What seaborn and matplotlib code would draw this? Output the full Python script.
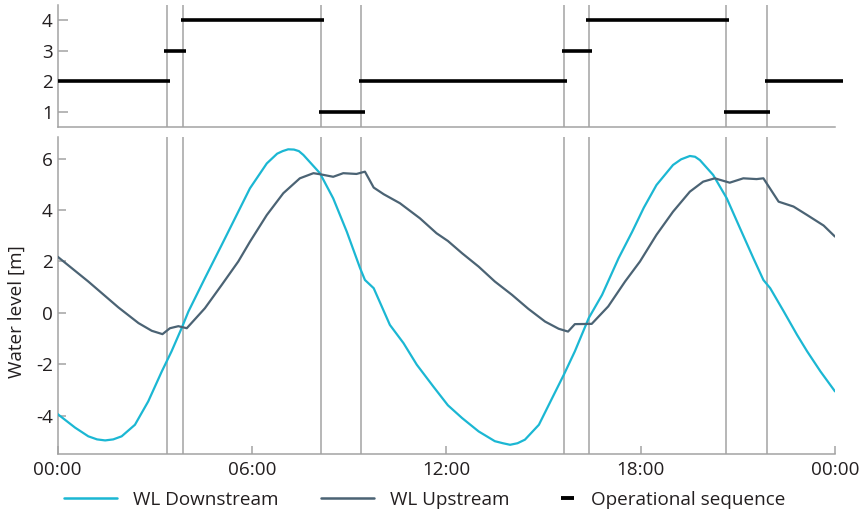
import matplotlib
matplotlib.use("Agg")
import matplotlib.pyplot as plt
from matplotlib.lines import Line2D
import numpy as np
import pandas as pd
import seaborn as sns

# ---------------- data ----------------
ds_hour = [0, 0.54, 0.95, 1.22, 1.47, 1.72, 1.98, 2.39, 2.80, 3.22, 3.52, 3.83, 4.04, 4.55,
           5.07, 5.58, 5.94, 6.46, 6.78, 6.95, 7.12, 7.3, 7.45, 7.59, 8.10, 8.51, 8.93,
           9.34, 9.49, 9.76, 10.26, 10.68, 11.09, 11.6, 12.05, 12.49, 13.0, 13.5, 13.75,
           13.97, 14.2, 14.43, 14.86, 15.27, 15.63, 15.97, 16.4, 16.81, 17.32, 17.74, 18.1,
           18.49, 19.0, 19.25, 19.52, 19.68, 19.83, 20.24, 20.66, 21.07, 21.48, 21.79, 22.0,
           22.42, 22.83, 23.14, 23.55, 24.0]
ds_level = [-3.94, -4.47, -4.81, -4.93, -4.97, -4.93, -4.81, -4.36, -3.45, -2.28, -1.5,
            -0.6, 0.05, 1.35, 2.65, 3.94, 4.85, 5.82, 6.2, 6.3, 6.37, 6.36, 6.3, 6.15, 5.44,
            4.46, 3.16, 1.74, 1.28, 0.96, -0.47, -1.18, -2.02, -2.87, -3.6, -4.1, -4.62,
            -5.0, -5.08, -5.14, -5.08, -4.94, -4.36, -3.32, -2.41, -1.5, -0.2, 0.7, 2.13,
            3.16, 4.1, 4.98, 5.76, 5.98, 6.11, 6.08, 5.95, 5.37, 4.46, 3.29, 2.13, 1.28,
            0.96, 0.05, -0.86, -1.5, -2.28, -3.06]

us_hour = [0, 0.95, 1.88, 2.5, 2.91, 3.24, 3.47, 3.73, 3.99, 4.55, 5.07, 5.58, 5.94, 6.46,
           6.97, 7.48, 7.9, 8.1, 8.51, 8.82, 9.23, 9.49, 9.76, 10.07, 10.57, 11.19, 11.7,
           12.05, 12.49, 13.0, 13.5, 14.03, 14.53, 15.05, 15.47, 15.76, 15.97, 16.49, 17.0,
           17.52, 17.98, 18.49, 19.0, 19.52, 19.93, 20.29, 20.75, 21.17, 21.58, 21.79, 22.26,
           22.72, 23.14, 23.65, 24.0]
us_level = [2.19, 1.22, 0.21, -0.4, -0.7, -0.83, -0.6, -0.52, -0.6, 0.18, 1.09, 2.0, 2.77,
            3.81, 4.66, 5.24, 5.44, 5.4, 5.3, 5.44, 5.41, 5.5, 4.88, 4.62, 4.27, 3.68, 3.1,
            2.8, 2.32, 1.8, 1.22, 0.7, 0.16, -0.34, -0.62, -0.73, -0.44, -0.43, 0.25, 1.22,
            2.0, 3.04, 3.94, 4.72, 5.11, 5.24, 5.07, 5.24, 5.21, 5.24, 4.33, 4.14, 3.81,
            3.4, 2.97]

switch_hours = [3.38, 3.87, 8.13, 9.38, 15.63, 16.40, 20.63, 21.90]

seq_level = [2, 3, 4, 1, 2, 3, 4, 1, 2]
seq_start = [0.0, 3.28, 3.80, 8.07, 9.30, 15.56, 16.32, 20.57, 21.83]
seq_end = [3.47, 3.97, 8.22, 9.48, 15.73, 16.49, 20.74, 21.99, 24.24]

x_ticks = [0, 6, 12, 18, 24]
x_labels = ["00:00", "06:00", "12:00", "18:00", "00:00"]
y_ticks = [-4, -2, 0, 2, 4, 6]
top_ticks = [1, 2, 3, 4]

series_names = ["WL Downstream", "WL Upstream"]
seq_name = "Operational sequence"

# ---------------- style ----------------
CYAN = "#1bb7d3"
SLATE = "#4b6374"
GRID = "#a3a3a3"
TEXT = "#231f20"
FS = 13.6

sns.set_theme(style="white")
plt.rcParams["font.family"] = ["Open Sans", "DejaVu Sans"]

df = pd.concat([
    pd.DataFrame({"hour": ds_hour, "level": ds_level, "series": series_names[0]}),
    pd.DataFrame({"hour": us_hour, "level": us_level, "series": series_names[1]}),
], ignore_index=True)

fig = plt.figure(figsize=(8.65, 5.15), dpi=100)
ax_top = fig.add_axes([0.0665, 0.7534, 0.8988, 0.2369])
ax = fig.add_axes([0.0665, 0.1184, 0.8988, 0.6156])

# vertical switch lines
for t in switch_hours:
    ax.axvline(t, color=GRID, lw=1.1, zorder=1)
    ax_top.axvline(t, color=GRID, lw=1.1, zorder=1)

sns.lineplot(data=df, x="hour", y="level", hue="series",
             palette={series_names[0]: CYAN, series_names[1]: SLATE},
             sort=False, estimator=None, linewidth=1.6, legend=False, ax=ax, zorder=3)

ax_top.hlines(seq_level, seq_start, seq_end, color="black", lw=2.6, zorder=3,
              clip_on=False)

for a in (ax, ax_top):
    a.set_xlim(0, 24)
    for s in ("top", "right"):
        a.spines[s].set_visible(False)
    for s in ("left", "bottom"):
        a.spines[s].set_color(GRID)
        a.spines[s].set_linewidth(1.1)
    a.set_xlabel("")

ax.set_ylim(-5.5, 6.85)
ax.set_xticks(x_ticks)
ax.set_xticklabels(x_labels)
ax.set_yticks(y_ticks)
ax.set_yticklabels([str(v) for v in y_ticks])
ax.tick_params(axis="both", which="major", direction="in", length=6, width=1.1,
               color=GRID, labelsize=FS, labelcolor=TEXT, bottom=True, left=True)
ax.tick_params(axis="x", pad=5)
ax.tick_params(axis="y", pad=3.5)
ax.set_ylabel("Water level [m]", fontsize=FS, color=TEXT)
ax.yaxis.set_label_coords(-0.041, 0.45)

ax_top.set_ylim(0.5, 4.5)
ax_top.set_yticks(top_ticks)
ax_top.set_yticklabels([str(v) for v in top_ticks])
ax_top.tick_params(axis="y", direction="in", length=7, width=1.1, color=GRID,
                   labelsize=FS, labelcolor=TEXT, left=True, pad=3.5)
ax_top.tick_params(axis="x", bottom=False, labelbottom=False)
ax_top.set_ylabel("")

# legends
h1 = [Line2D([], [], color=CYAN, lw=1.8), Line2D([], [], color=SLATE, lw=1.8)]
fig.legend(h1, series_names, loc="center left", bbox_to_anchor=(64 / 865, 1 - 500 / 515),
           ncol=2, frameon=False, fontsize=FS, handlelength=2.8, handletextpad=0.85,
           columnspacing=2.25, borderpad=0, borderaxespad=0, labelcolor=TEXT)
h2 = [Line2D([], [], color="black", lw=2.8, solid_capstyle="butt")]
fig.legend(h2, [seq_name], loc="center left", bbox_to_anchor=(561 / 865, 1 - 500 / 515),
           frameon=False, fontsize=FS, handlelength=0.7, handletextpad=0.88,
           borderpad=0, borderaxespad=0, labelcolor=TEXT)

fig.savefig("out.png", dpi=100)
